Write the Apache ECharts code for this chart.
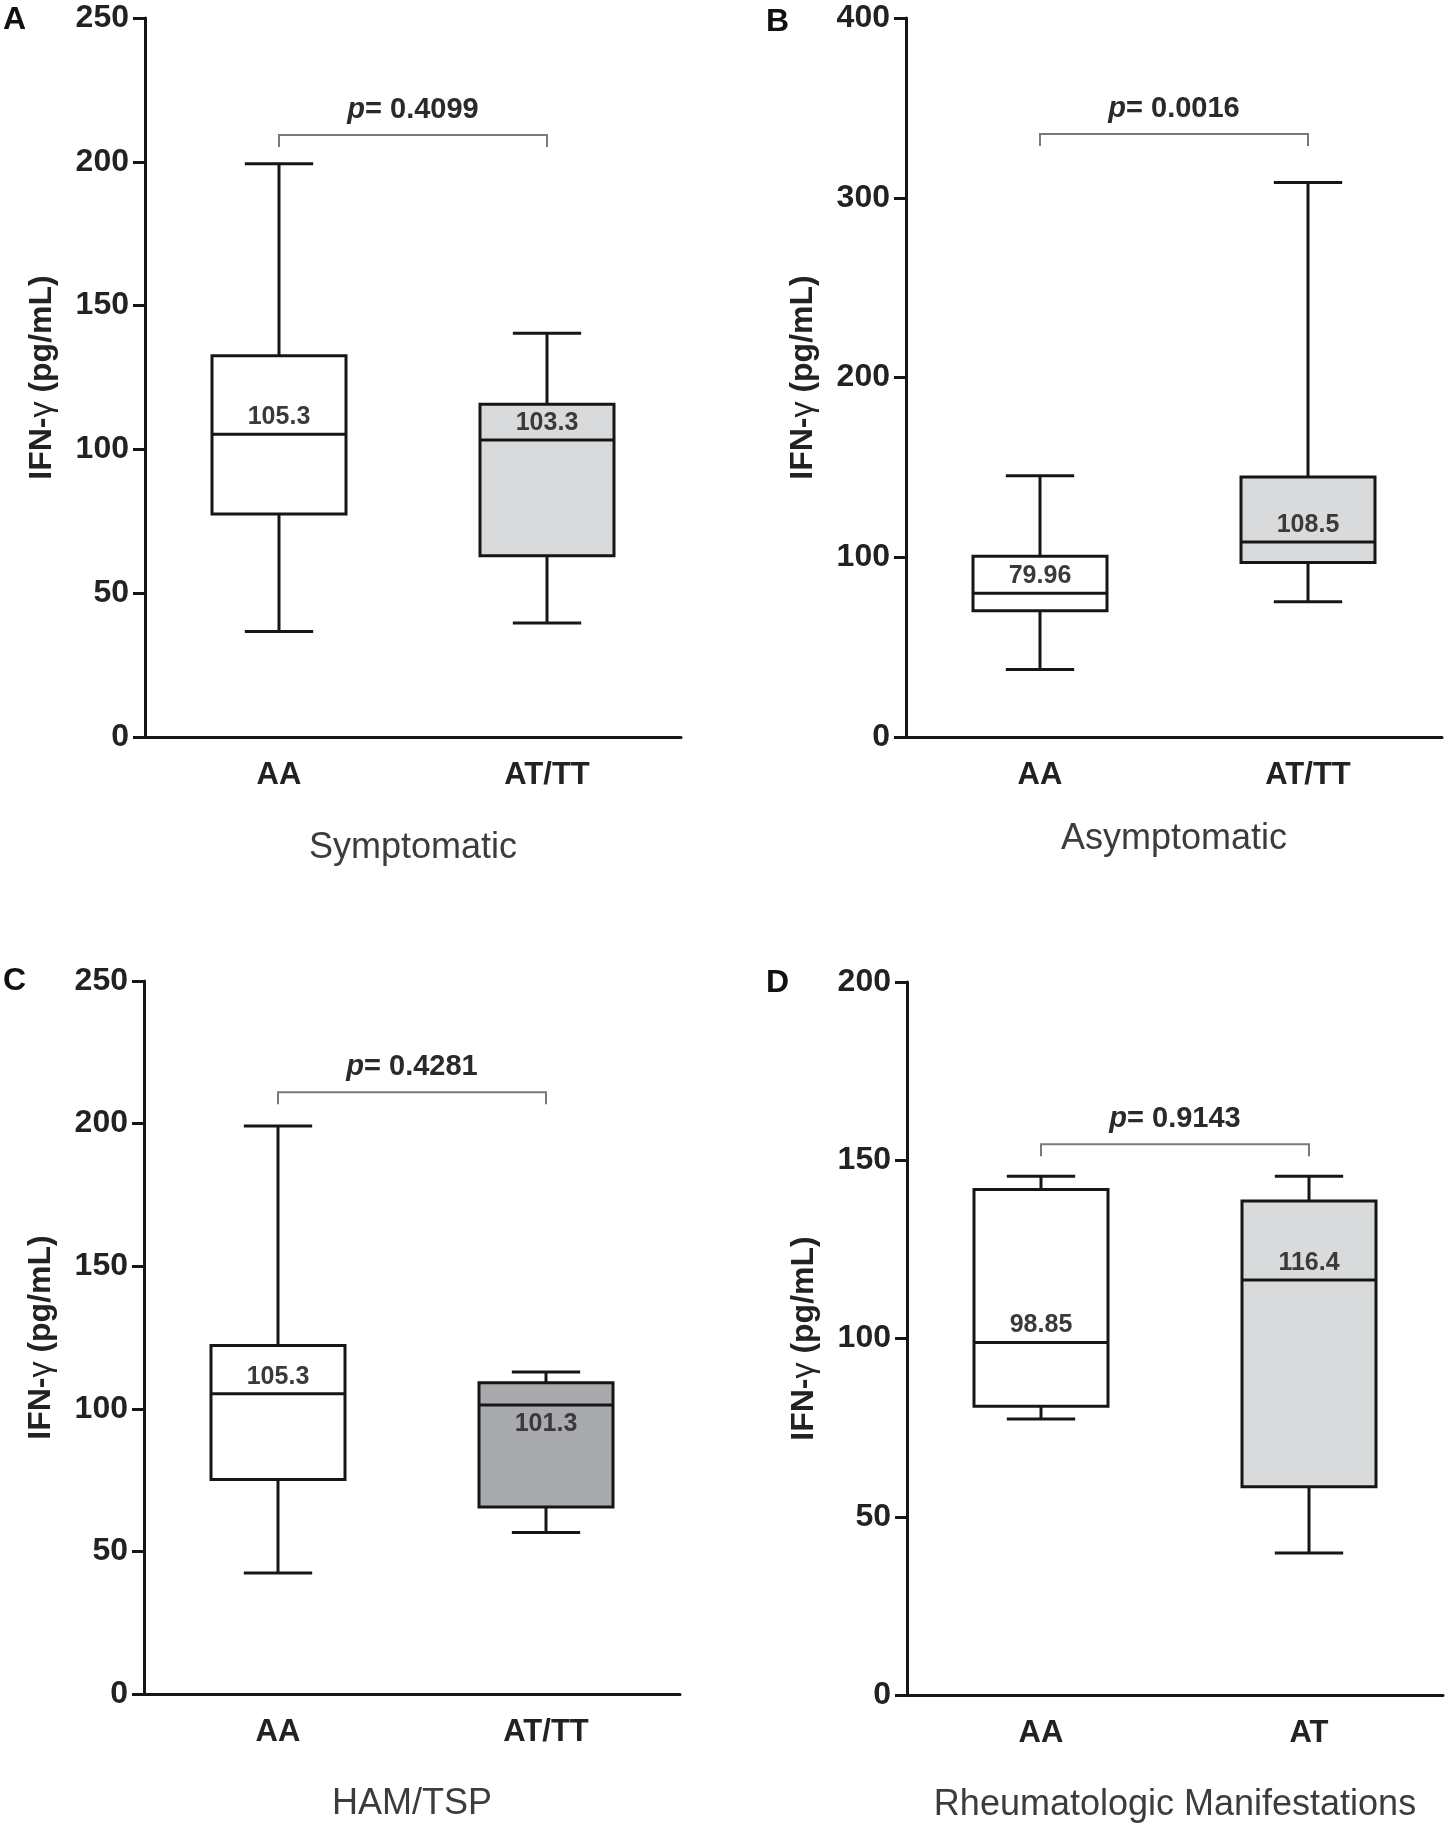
<!DOCTYPE html>
<html>
<head>
<meta charset="utf-8">
<script src="https://cdn.jsdelivr.net/npm/echarts@6/dist/echarts.min.js"></script>
<style>
  html, body { margin: 0; padding: 0; background: #fff; }
  #chart { width: 1450px; height: 1827px; }
</style>
</head>
<body>
<div id="chart"></div>
<script>
// panel data: [min, Q1, median, Q3, max] per genotype group
var panelLetters = ['A', 'B', 'C', 'D'];
var panelTitles = ['Symptomatic', 'Asymptomatic', 'HAM/TSP', 'Rheumatologic Manifestations'];
var categoriesABC = ['AA', 'AT/TT'];
var categoriesD = ['AA', 'AT'];

var symptomatic = [[36.7, 77.5, 105.3, 132.6, 199.3], [39.6, 63.0, 103.3, 115.7, 140.4]];
var asymptomatic = [[37.5, 70.3, 79.96, 100.6, 145.4], [75.2, 97.1, 108.5, 144.7, 308.5]];
var hamTsp = [[42.4, 75.2, 105.3, 122.2, 199.2], [56.6, 65.6, 101.3, 109.1, 112.9]];
var rheumatologic = [[77.4, 81.0, 98.85, 141.8, 145.5], [39.8, 58.4, 116.4, 138.6, 145.5]];

var pValues = ['0.4099', '0.0016', '0.4281', '0.9143'];
var bracketLevels = [209.3, 335.4, 211, 154.5];
var yMax = [250, 400, 250, 200];
var yStep = [50, 100, 50, 50];

var panels = [symptomatic, asymptomatic, hamTsp, rheumatologic];
var panelCats = [categoriesABC, categoriesABC, categoriesABC, categoriesD];

// layout / style
var grids = [
    { left: 145, top: 18, width: 536, height: 719 },
    { left: 906, top: 18, width: 536, height: 719 },
    { left: 144, top: 981, width: 536, height: 713 },
    { left: 907, top: 982, width: 536, height: 713 }
];
var titleGaps = [93, 84, 92, 92];
var secondFill = ['#d9dadb', '#d9dadb', '#a9aaad', '#d9dadb'];
var FONT = '"Liberation Sans", Arial, Helvetica, sans-serif';
var INK = '#161616';

function renderBox(params, api) {
    var c = api.value(0);
    var lo = api.coord([c, api.value(1)]);
    var q1 = api.coord([c, api.value(2)]);
    var md = api.coord([c, api.value(3)]);
    var q3 = api.coord([c, api.value(4)]);
    var hi = api.coord([c, api.value(5)]);
    var band = api.size([1, 0])[0];
    var bw = band * 0.5;
    var cw = band * 0.255;
    var cx = md[0];
    var fill = c === 0 ? '#ffffff' : secondFill[params.seriesIndex];
    var lineStyle = { stroke: INK, lineWidth: 3, fill: null };
    var below = (md[1] - q3[1]) < 30;
    return {
        type: 'group',
        children: [
            { type: 'line', shape: { x1: cx, y1: hi[1], x2: cx, y2: q3[1] }, style: lineStyle },
            { type: 'line', shape: { x1: cx, y1: q1[1], x2: cx, y2: lo[1] }, style: lineStyle },
            { type: 'line', shape: { x1: cx - cw / 2, y1: hi[1], x2: cx + cw / 2, y2: hi[1] }, style: lineStyle },
            { type: 'line', shape: { x1: cx - cw / 2, y1: lo[1], x2: cx + cw / 2, y2: lo[1] }, style: lineStyle },
            { type: 'rect', shape: { x: cx - bw / 2, y: q3[1], width: bw, height: q1[1] - q3[1] },
              style: { fill: fill, stroke: INK, lineWidth: 3 } },
            { type: 'line', shape: { x1: cx - bw / 2, y1: md[1], x2: cx + bw / 2, y2: md[1] }, style: lineStyle },
            { type: 'text', x: cx, y: below ? md[1] + 19 : md[1] - 17,
              style: { text: String(api.value(3)), align: 'center', verticalAlign: 'middle',
                       fontFamily: FONT, fontSize: 25, fontWeight: 'bold', fill: '#3a3a3a' } }
        ]
    };
}

function renderBracket(params, api) {
    var a = api.coord([0, api.value(2)]);
    var b = api.coord([1, api.value(2)]);
    var drop = 12;
    return {
        type: 'group',
        children: [
            { type: 'polyline',
              shape: { points: [[a[0], a[1] + drop], [a[0], a[1]], [b[0], b[1]], [b[0], b[1] + drop]] },
              style: { stroke: '#7a7a7a', lineWidth: 2, fill: null } },
            { type: 'text', x: (a[0] + b[0]) / 2, y: a[1] - 25,
              style: { text: '{i|p}= ' + pValues[params.seriesIndex - 4], align: 'center', verticalAlign: 'middle',
                       fontFamily: FONT, fontSize: 29, fontWeight: 'bold', fill: '#2a2a2a',
                       rich: { i: { fontStyle: 'italic', fontFamily: FONT, fontSize: 29, fontWeight: 'bold', fill: '#2a2a2a' } } } }
        ]
    };
}

var xAxes = [], yAxes = [], series = [], titles = [];
for (var i = 0; i < 4; i++) {
    xAxes.push({
        type: 'category',
        gridIndex: i,
        data: panelCats[i],
        boundaryGap: true,
        name: panelTitles[i],
        nameLocation: 'middle',
        nameGap: titleGaps[i],
        nameTextStyle: { fontFamily: FONT, fontSize: 36, color: '#3c3c3c' },
        axisLine: { lineStyle: { color: INK, width: 3 } },
        axisTick: { alignWithLabel: true, length: 12, lineStyle: { color: INK, width: 3 } },
        axisLabel: { margin: 23, fontFamily: FONT, fontSize: 31, fontWeight: 'bold', color: '#222' },
        splitLine: { show: false }
    });
    yAxes.push({
        type: 'value',
        gridIndex: i,
        min: 0,
        max: yMax[i],
        interval: yStep[i],
        name: 'IFN-{g|γ} (pg/mL)',
        nameLocation: 'middle',
        nameGap: 87,
        nameTextStyle: {
            fontFamily: FONT, fontSize: 32, fontWeight: 'bold', color: '#222',
            rich: { g: { fontFamily: FONT, fontSize: 32, fontWeight: 'normal', color: '#222' } }
        },
        axisLine: { show: true, lineStyle: { color: INK, width: 3 } },
        axisTick: { show: true, length: 12, lineStyle: { color: INK, width: 3 } },
        axisLabel: { margin: 16, fontFamily: FONT, fontSize: 32, fontWeight: 'bold', color: '#222' },
        splitLine: { show: false }
    });
    series.push({
        type: 'custom',
        xAxisIndex: i,
        yAxisIndex: i,
        renderItem: renderBox,
        encode: { x: 0, y: [1, 2, 3, 4, 5] },
        data: panels[i].map(function (d, k) { return [k].concat(d); }),
        silent: true
    });
}
for (var j = 0; j < 4; j++) {
    series.push({
        type: 'custom',
        xAxisIndex: j,
        yAxisIndex: j,
        renderItem: renderBracket,
        encode: { x: [0, 1], y: 2 },
        data: [[0, 1, bracketLevels[j]]],
        silent: true
    });
}
titles = [
    { text: panelLetters[0], left: 3, top: 4 },
    { text: panelLetters[1], left: 766, top: 6 },
    { text: panelLetters[2], left: 3, top: 965 },
    { text: panelLetters[3], left: 766, top: 967 }
].map(function (t) {
    t.padding = 0;
    t.textStyle = { fontFamily: FONT, fontSize: 32, fontWeight: 'bold', color: '#111' };
    return t;
});

var myChart = echarts.init(document.getElementById('chart'));
myChart.setOption({
    animation: false,
    backgroundColor: '#ffffff',
    title: titles,
    grid: grids,
    xAxis: xAxes,
    yAxis: yAxes,
    series: series
});
</script>
</body>
</html>
